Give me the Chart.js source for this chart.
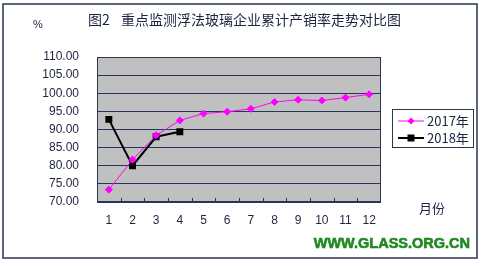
<!DOCTYPE html>
<html>
<head>
<meta charset="utf-8">
<script src="https://cdn.jsdelivr.net/npm/chart.js@4"></script>
<style>
  html, body { margin: 0; padding: 0; background: #fff; }
  #wrap { width: 483px; height: 267px; position: relative; }
</style>
</head>
<body>
<div id="wrap"><canvas id="c" width="483" height="267"></canvas></div>
<script>
// 数据
const months = ['1', '2', '3', '4', '5', '6', '7', '8', '9', '10', '11', '12'];
const rate2017 = [73.4, 81.7, 88.4, 92.5, 94.4, 94.9, 95.7, 97.6, 98.2, 98.0, 98.8, 99.7];
const rate2018 = [92.8, 80.0, 88.0, 89.4];
const yMin = 70, yMax = 110, yStep = 5;
const seriesNames = ['2017年', '2018年'];

const textColor = '#1c2540';
const gridColor = '#26365a';

// 边框、刻度线、标题等
const decor = {
  id: 'decor',
  beforeDatasetsDraw(chart) {
    const { ctx, chartArea: a, scales: { x } } = chart;
    ctx.save();
    // 分类之间的小刻度（向内）
    ctx.strokeStyle = gridColor;
    ctx.lineWidth = 1;
    for (let i = 0; i < months.length - 1; i++) {
      const px = Math.round((x.getPixelForTick(i) + x.getPixelForTick(i + 1)) / 2) + 0.5;
      ctx.beginPath();
      ctx.moveTo(px, a.bottom);
      ctx.lineTo(px, a.bottom - 4);
      ctx.stroke();
    }
    ctx.strokeStyle = '#2a3550';
    ctx.strokeRect(a.left + 0.5, a.top + 0.5, a.right - a.left - 1, a.bottom - a.top - 1);
    ctx.restore();
  },
  afterDraw(chart) {
    const { ctx } = chart;
    ctx.save();
    // 外框
    ctx.strokeStyle = '#2a3550';
    ctx.lineWidth = 1.5;
    ctx.strokeRect(3, 4, 474, 254);

    ctx.fillStyle = textColor;
    ctx.textBaseline = 'middle';
    ctx.font = '14px "Noto Sans CJK SC"';
    ctx.fillText('图2', 88, 20);
    ctx.fillText('重点监测浮法玻璃企业累计产销率走势对比图', 121, 20);
    ctx.font = '11px "Liberation Sans"';
    ctx.fillText('%', 33, 25);
    ctx.font = '13px "Noto Sans CJK SC"';
    ctx.fillText('月份', 419, 208);

    // 图例
    ctx.strokeStyle = '#2a3550';
    ctx.lineWidth = 1;
    ctx.strokeRect(392.5, 109.5, 81, 38);
    const ds = chart.data.datasets;
    const rows = [121, 138];
    ds.forEach((d, i) => {
      const y = rows[i];
      ctx.strokeStyle = d.borderColor;
      ctx.lineWidth = d.borderWidth;
      ctx.beginPath();
      ctx.moveTo(398, y);
      ctx.lineTo(424, y);
      ctx.stroke();
      ctx.fillStyle = d.pointBackgroundColor;
      if (d.pointStyle === 'rectRot') {
        ctx.beginPath();
        ctx.moveTo(411, y - 3.5);
        ctx.lineTo(414.5, y);
        ctx.lineTo(411, y + 3.5);
        ctx.lineTo(407.5, y);
        ctx.closePath();
        ctx.fill();
      } else {
        ctx.fillRect(407.5, y - 3.5, 7, 7);
      }
      ctx.fillStyle = textColor;
      ctx.font = '13px "Noto Sans CJK SC"';
      ctx.fillText(d.label, 427, y);
    });

    // 水印
    ctx.fillStyle = '#1f8a1f';
    ctx.strokeStyle = '#1f8a1f';
    ctx.lineWidth = 0.6;
    ctx.font = 'bold 14.5px "Liberation Sans"';
    ctx.textAlign = 'right';
    ctx.fillText('WWW.GLASS.ORG.CN', 470, 244);
    ctx.strokeText('WWW.GLASS.ORG.CN', 470, 244);
    ctx.restore();
  }
};

const plotBg = {
  id: 'plotBg',
  beforeDraw(chart) {
    const { ctx, chartArea: a } = chart;
    ctx.save();
    ctx.fillStyle = '#ffffff';
    ctx.fillRect(0, 0, chart.width, chart.height);
    ctx.fillStyle = '#c0c0c0';
    ctx.fillRect(a.left, a.top, a.right - a.left, a.bottom - a.top);
    ctx.restore();
  }
};

new Chart(document.getElementById('c'), {
  type: 'line',
  data: {
    labels: months,
    datasets: [
      {
        label: seriesNames[0],
        data: rate2017,
        borderColor: '#ff00ff',
        backgroundColor: '#ff00ff',
        pointBackgroundColor: '#ff00ff',
        pointBorderColor: '#ff00ff',
        borderWidth: 1,
        pointStyle: 'rectRot',
        pointRadius: 3.5,
        tension: 0
      },
      {
        label: seriesNames[1],
        data: rate2018,
        borderColor: '#000000',
        backgroundColor: '#000000',
        pointBackgroundColor: '#000000',
        pointBorderColor: '#000000',
        borderWidth: 2,
        pointStyle: 'rect',
        pointRadius: 3.5,
        tension: 0
      }
    ]
  },
  options: {
    responsive: false,
    animation: false,
    layout: { padding: { top: 57, right: 102, bottom: 0, left: 0 } },
    plugins: {
      legend: { display: false },
      tooltip: { enabled: false }
    },
    scales: {
      x: {
        offset: true,
        grid: { display: false, drawTicks: false },
        border: { display: false },
        ticks: {
          color: textColor,
          padding: 11,
          maxRotation: 0,
          font: { family: 'Liberation Sans', size: 12 }
        },
        afterFit(scale) { scale.height = 65; }
      },
      y: {
        min: yMin,
        max: yMax,
        grid: { color: gridColor, lineWidth: 1, drawTicks: false },
        border: { display: false },
        ticks: {
          stepSize: yStep,
          color: textColor,
          padding: 18,
          font: { family: 'Liberation Sans', size: 12 },
          callback: v => v.toFixed(2)
        },
        afterFit(scale) { scale.width = 97; }
      }
    }
  },
  plugins: [plotBg, decor]
});
</script>
</body>
</html>
